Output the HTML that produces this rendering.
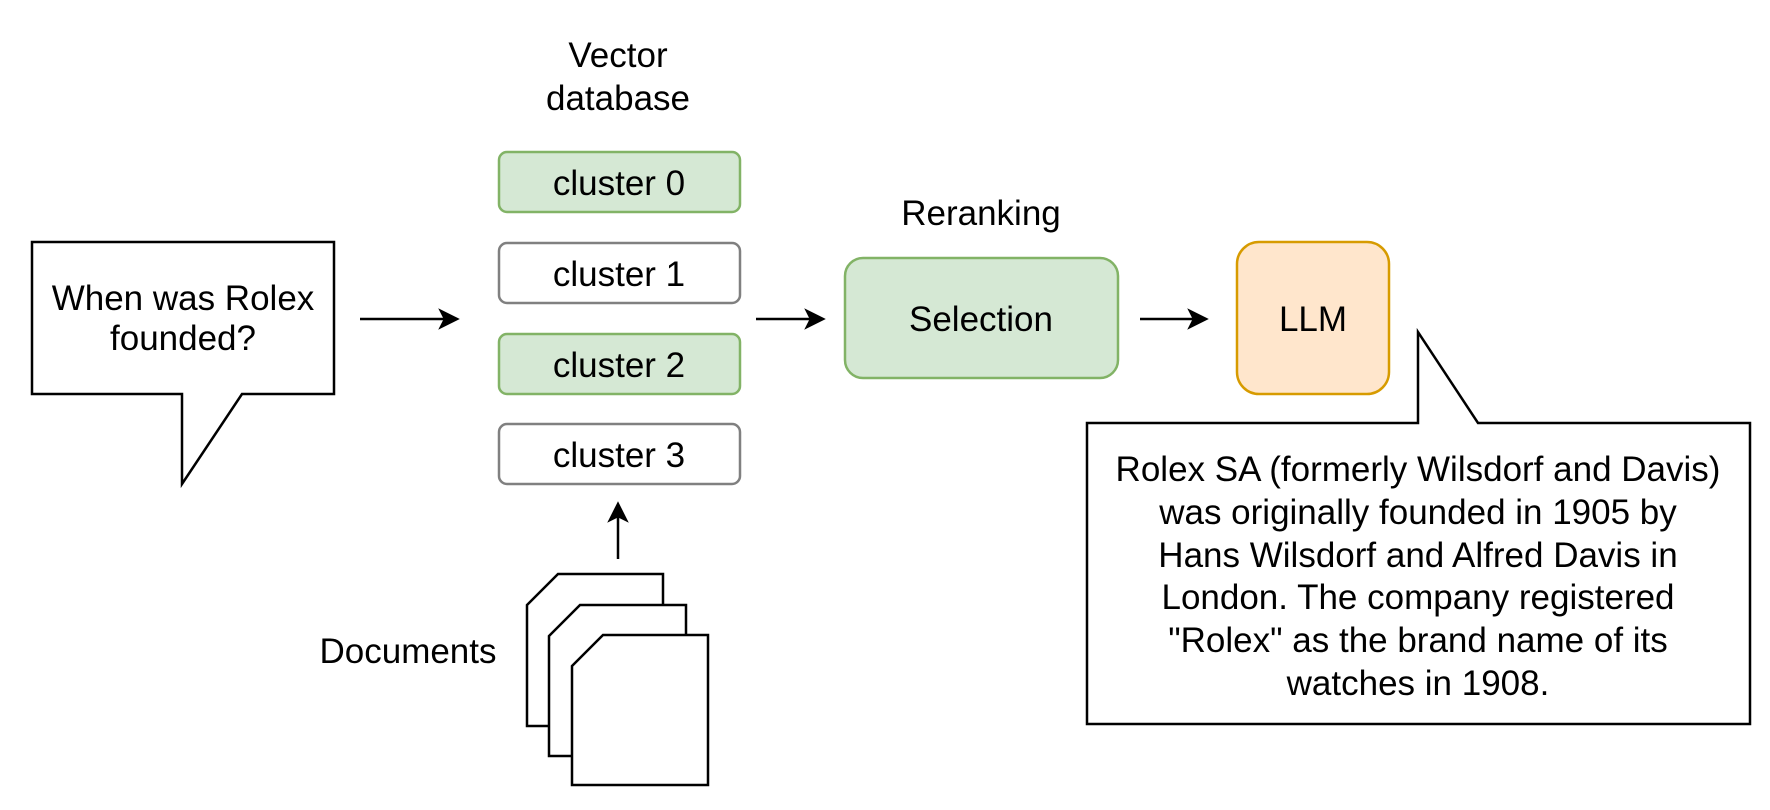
<!DOCTYPE html>
<html><head><meta charset="utf-8"><style>
html,body{margin:0;padding:0;background:#fff;}
svg{display:block;}
text{font-family:"Liberation Sans",Helvetica,Arial,sans-serif;font-size:35px;fill:#000;}
</style></head><body>
<svg width="1770" height="810" viewBox="0 0 1770 810" xmlns="http://www.w3.org/2000/svg">
<!-- Vector database label -->
<text x="618" y="67" text-anchor="middle">Vector</text>
<text x="618" y="110" text-anchor="middle">database</text>
<!-- clusters -->
<rect x="499" y="152" width="241" height="60" rx="8" fill="#d5e8d4" stroke="#82b366" stroke-width="2.5"/>
<text x="619" y="195" text-anchor="middle">cluster 0</text>
<rect x="499" y="243" width="241" height="60" rx="8" fill="#fff" stroke="#808080" stroke-width="2.5"/>
<text x="619" y="286" text-anchor="middle">cluster 1</text>
<rect x="499" y="334" width="241" height="60" rx="8" fill="#d5e8d4" stroke="#82b366" stroke-width="2.5"/>
<text x="619" y="377" text-anchor="middle">cluster 2</text>
<rect x="499" y="424" width="241" height="60" rx="8" fill="#fff" stroke="#808080" stroke-width="2.5"/>
<text x="619" y="467" text-anchor="middle">cluster 3</text>
<!-- question bubble -->
<path d="M32,242 H334 V394 H242 L182,484 V394 H32 Z" fill="#fff" stroke="#000" stroke-width="2.5"/>
<text x="183" y="310" text-anchor="middle">When was Rolex</text>
<text x="183" y="350" text-anchor="middle">founded?</text>
<!-- arrows -->
<g stroke="#000" stroke-width="2.5" fill="#000">
<line x1="360" y1="319" x2="446" y2="319"/>
<path d="M457,319 L441,311 L445,319 L441,327 Z"/>
<line x1="756" y1="319" x2="812" y2="319"/>
<path d="M823,319 L807,311 L811,319 L807,327 Z"/>
<line x1="1140" y1="319" x2="1195" y2="319"/>
<path d="M1206,319 L1190,311 L1194,319 L1190,327 Z"/>
<line x1="618" y1="559" x2="618" y2="515"/>
<path d="M618,504 L610,520 L618,516 L626,520 Z"/>
</g>
<!-- Reranking -->
<text x="981" y="225" text-anchor="middle">Reranking</text>
<rect x="845" y="258" width="273" height="120" rx="18" fill="#d5e8d4" stroke="#82b366" stroke-width="2.5"/>
<text x="981" y="331" text-anchor="middle">Selection</text>
<!-- LLM -->
<rect x="1237" y="242" width="152" height="152" rx="22" fill="#ffe6cc" stroke="#d79b00" stroke-width="2.5"/>
<text x="1313" y="331" text-anchor="middle">LLM</text>
<!-- answer callout -->
<path d="M1087,423 H1418 V332 L1478,423 H1750 V724 H1087 Z" fill="#fff" stroke="#000" stroke-width="2.5"/>
<g text-anchor="middle">
<text x="1418" y="481">Rolex SA (formerly Wilsdorf and Davis)</text>
<text x="1418" y="524">was originally founded in 1905 by</text>
<text x="1418" y="567">Hans Wilsdorf and Alfred Davis in</text>
<text x="1418" y="609">London. The company registered</text>
<text x="1418" y="652">"Rolex" as the brand name of its</text>
<text x="1418" y="695">watches in 1908.</text>
</g>
<!-- documents -->
<g fill="#fff" stroke="#000" stroke-width="2.5">
<path d="M558,574 H663 V726 H527 V605 Z"/>
<path d="M580,605 H686 V756 H549 V636 Z"/>
<path d="M603,635 H708 V785 H572 V666 Z"/>
</g>
<text x="408" y="663" text-anchor="middle">Documents</text>
</svg>
</body></html>
